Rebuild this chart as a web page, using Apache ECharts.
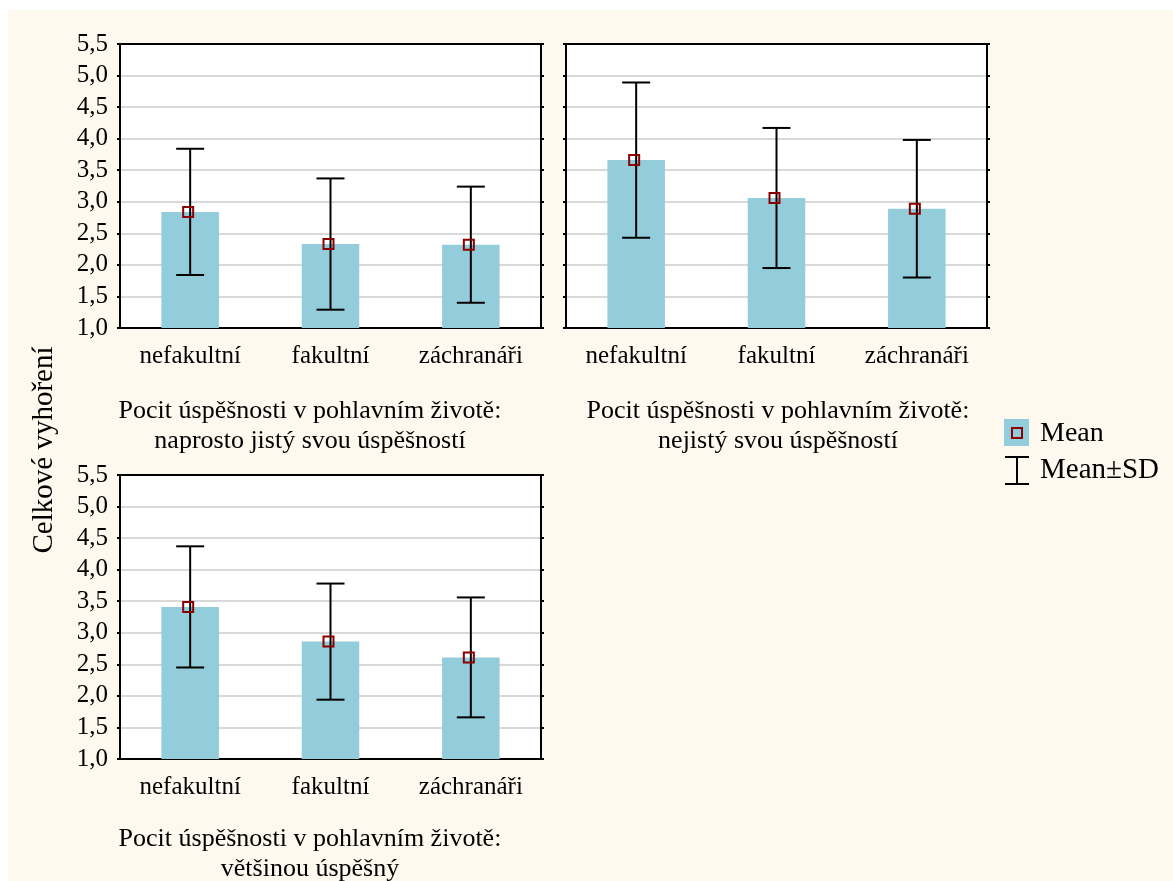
<!DOCTYPE html>
<html>
<head>
<meta charset="utf-8">
<script src="https://cdn.jsdelivr.net/npm/echarts@6/dist/echarts.min.js"></script>
<style>
  html, body { margin: 0; padding: 0; background: #fff; }
  #chart { width: 1173px; height: 881px; }
</style>
</head>
<body>
<div id="chart"></div>
<script>
  // data
  let categories = ['nefakultní', 'fakultní', 'záchranáři']
  let yTicks = [1.0, 1.5, 2.0, 2.5, 3.0, 3.5, 4.0, 4.5, 5.0, 5.5]
  let meanJisty = [2.84, 2.33, 2.32]
  let sdJisty = [1.00, 1.04, 0.92]
  let meanNejisty = [3.66, 3.06, 2.89]
  let sdNejisty = [1.23, 1.11, 1.09]
  let meanVetsinou = [3.41, 2.86, 2.61]
  let sdVetsinou = [0.96, 0.92, 0.95]
  let panelTitles = [
    ['Pocit úspěšnosti v pohlavním životě:', 'naprosto jistý svou úspěšností'],
    ['Pocit úspěšnosti v pohlavním životě:', 'nejistý svou úspěšností'],
    ['Pocit úspěšnosti v pohlavním životě:', 'většinou úspěšný']
  ]
  let yTitle = 'Celkové vyhoření'
  let legendLabels = ['Mean', 'Mean±SD']

  let font = '"Liberation Serif", "Times New Roman", serif'
  let barColor = '#93cddb'
  let markColor = '#8b0000'

  let panels = [
    { mean: meanJisty, sd: sdJisty, left: 120, top: 44, showLabels: true, titleX: 310, titleY: 411 },
    { mean: meanNejisty, sd: sdNejisty, left: 566, top: 44, showLabels: false, titleX: 778, titleY: 411 },
    { mean: meanVetsinou, sd: sdVetsinou, left: 120, top: 475, showLabels: true, titleX: 310, titleY: 839 }
  ]

  let chart = echarts.init(document.getElementById('chart'))

  let grids = []
  let xAxes = []
  let yAxes = []
  let series = []
  let graphics = [
    { type: 'rect', z: -100, silent: true, shape: { x: 8, y: 10, width: 1200, height: 900 }, style: { fill: '#fef9ef' } }
  ]

  panels.forEach((p, i) => {
    grids.push({
      left: p.left, top: p.top, width: 421, height: 284,
      show: true, backgroundColor: '#fff', borderWidth: 0
    })
    // bottom + top category axes
    xAxes.push({
      type: 'category', gridIndex: i, position: 'bottom', data: categories,
      axisLine: { lineStyle: { color: '#000', width: 2 } },
      axisTick: { alignWithLabel: true, inside: true, length: 4, lineStyle: { color: '#000', width: 2 } },
      axisLabel: { color: '#000', fontFamily: font, fontSize: 25, margin: 16 }
    })
    xAxes.push({
      type: 'category', gridIndex: i, position: 'top', data: categories,
      axisLine: { lineStyle: { color: '#000', width: 2 } },
      axisTick: { alignWithLabel: true, inside: true, length: 4, lineStyle: { color: '#000', width: 2 } },
      axisLabel: { show: false }
    })
    // left + right value axes
    yAxes.push({
      type: 'value', gridIndex: i, position: 'left',
      min: yTicks[0], max: yTicks[yTicks.length - 1], interval: 0.5,
      axisLine: { show: true, lineStyle: { color: '#000', width: 2 } },
      axisTick: { show: true, length: 3, lineStyle: { color: '#000', width: 2 } },
      splitLine: { show: true, lineStyle: { color: '#d9d9d9', width: 2 } },
      axisLabel: {
        show: p.showLabels, color: '#000', fontFamily: font, fontSize: 25, margin: 12,
        formatter: v => v.toFixed(1).replace('.', ',')
      }
    })
    yAxes.push({
      type: 'value', gridIndex: i, position: 'right',
      min: yTicks[0], max: yTicks[yTicks.length - 1], interval: 0.5,
      axisLine: { show: true, lineStyle: { color: '#000', width: 2 } },
      axisTick: { show: true, length: 3, lineStyle: { color: '#000', width: 2 } },
      splitLine: { show: false },
      axisLabel: { show: false }
    })

    let xi = i * 2
    let yi = i * 2
    series.push({
      type: 'bar', xAxisIndex: xi, yAxisIndex: yi,
      barWidth: '41%', itemStyle: { color: barColor },
      data: p.mean, z: 2
    })
    series.push({
      type: 'custom', xAxisIndex: xi, yAxisIndex: yi, z: 3,
      data: p.mean.map((m, k) => [k, m - p.sd[k], m + p.sd[k]]),
      encode: { x: 0, y: [1, 2] },
      renderItem: (params, api) => {
        let lo = api.coord([api.value(0), api.value(1)])
        let hi = api.coord([api.value(0), api.value(2)])
        let hw = 14
        let st = { stroke: '#000', lineWidth: 2 }
        return {
          type: 'group',
          children: [
            { type: 'line', shape: { x1: lo[0], y1: lo[1], x2: hi[0], y2: hi[1] }, style: st },
            { type: 'line', shape: { x1: lo[0] - hw, y1: lo[1], x2: lo[0] + hw, y2: lo[1] }, style: st },
            { type: 'line', shape: { x1: hi[0] - hw, y1: hi[1], x2: hi[0] + hw, y2: hi[1] }, style: st }
          ]
        }
      }
    })
    series.push({
      type: 'scatter', xAxisIndex: xi, yAxisIndex: yi, z: 4,
      symbol: 'rect', symbolSize: 10, symbolOffset: [-2, 0],
      itemStyle: { color: 'rgba(0,0,0,0)', borderColor: markColor, borderWidth: 2, opacity: 1 },
      data: p.mean.map((m, k) => [k, m])
    })

    panelTitles[i].forEach((t, j) => {
      graphics.push({
        type: 'text', x: p.titleX, y: p.titleY + j * 30,
        style: { text: t, font: '26px ' + font, fill: '#000', textAlign: 'center', textVerticalAlign: 'middle' }
      })
    })
  })

  // y axis title
  graphics.push({
    type: 'text', x: 44, y: 450, rotation: Math.PI / 2,
    style: { text: yTitle, font: '29px ' + font, fill: '#000', textAlign: 'center', textVerticalAlign: 'middle' }
  })
  // legend
  graphics.push({ type: 'rect', shape: { x: 1004, y: 419, width: 25, height: 27 }, style: { fill: barColor } })
  graphics.push({ type: 'rect', shape: { x: 1012, y: 428, width: 10, height: 10 }, style: { fill: 'none', stroke: markColor, lineWidth: 2 } })
  graphics.push({
    type: 'text', x: 1040, y: 434,
    style: { text: legendLabels[0], font: '28px ' + font, fill: '#000', textVerticalAlign: 'middle' }
  })
  graphics.push({ type: 'line', shape: { x1: 1017, y1: 457, x2: 1017, y2: 484 }, style: { stroke: '#000', lineWidth: 2 } })
  graphics.push({ type: 'line', shape: { x1: 1005, y1: 457, x2: 1029, y2: 457 }, style: { stroke: '#000', lineWidth: 2 } })
  graphics.push({ type: 'line', shape: { x1: 1005, y1: 484, x2: 1029, y2: 484 }, style: { stroke: '#000', lineWidth: 2 } })
  graphics.push({
    type: 'text', x: 1040, y: 470,
    style: { text: legendLabels[1], font: '29px ' + font, fill: '#000', textVerticalAlign: 'middle' }
  })

  let option = {
    backgroundColor: '#fff',
    animation: false,
    grid: grids,
    xAxis: xAxes,
    yAxis: yAxes,
    series: series,
    graphic: { elements: graphics }
  }
  chart.setOption(option)
</script>
</body>
</html>
